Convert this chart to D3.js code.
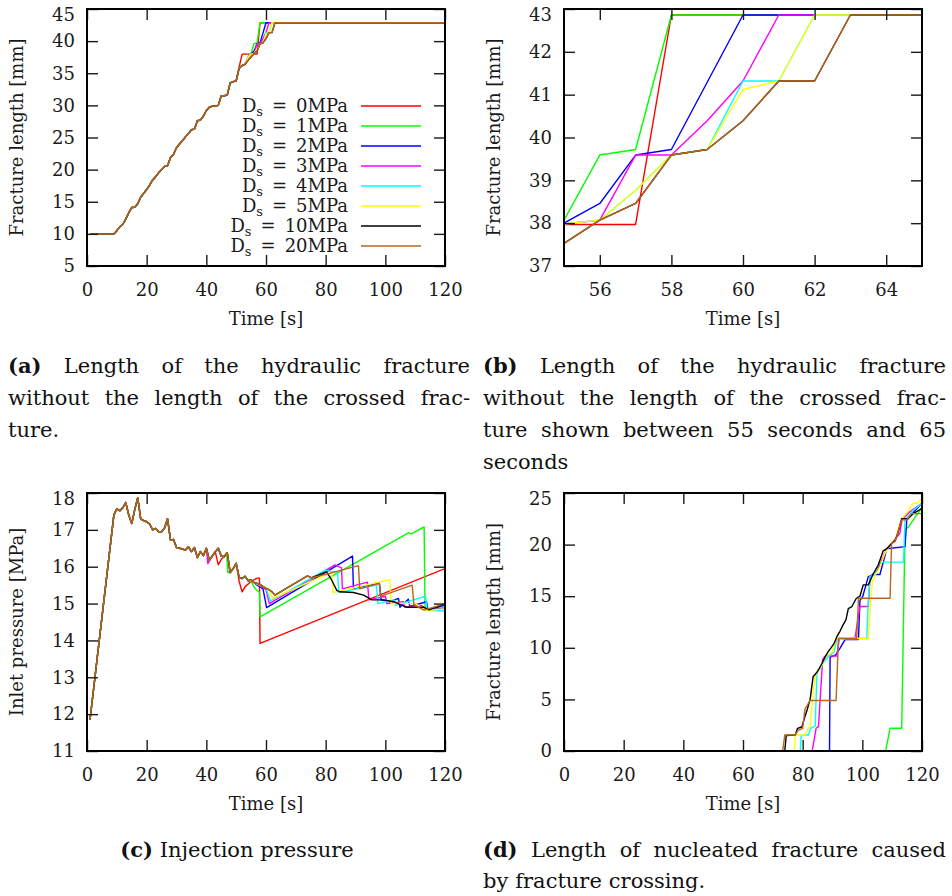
<!DOCTYPE html>
<html><head><meta charset="utf-8">
<script src="https://cdn.jsdelivr.net/npm/d3@7"></script>
<style>body{margin:0;background:#fff}svg{display:block}</style>
</head><body><svg id="fig" width="952" height="896"></svg>
<script>
// ---- series metadata ----
const seriesLabels = ["0MPa","1MPa","2MPa","3MPa","4MPa","5MPa","10MPa","20MPa"];
const seriesColors = ["#ff0000","#00ff00","#0000ff","#ff00ff","#00ffff","#ffff00","#000000","#bb651c"];

// ---- tick values ----
const timeTicks = [0,20,40,60,80,100,120];
const zoomTimeTicks = [56,58,60,62,64];
const lengthTicks = [5,10,15,20,25,30,35,40,45];
const zoomLengthTicks = [37,38,39,40,41,42,43];
const pressureTicks = [11,12,13,14,15,16,17,18];
const nucleatedTicks = [0,5,10,15,20,25];

// ---- hydraulic fracture length [mm] (time [s], length) ----
const lengthShared = [[1,10],[2,10],[3,10],[4,10],[5,10],[6,10],[7,10],[8,10],[9,10],[10,10.5],[11,11.1],[12,11.5],[13,12.3],[14,13.3],[15,14.1],[16,14.15],[17,14.7],[18,15.7],[19,16.3],[20,16.9],[21,17.6],[22,18.4],[23,18.9],[24,19.5],[25,20.0],[26,20.5],[27,20.6],[28,21.9],[29,22.4],[30,23.4],[31,24.0],[32,24.5],[33,25.1],[34,25.6],[35,26.2],[36,26.3],[37,27.6],[38,27.7],[39,28.3],[40,29.2],[41,29.7],[42,29.9],[43,29.9],[44,30.0],[45,31.5],[46,31.5],[47,31.6],[48,33.5],[49,33.7],[50,33.8]];
const lengthTail0 = [[51,36.0],[52,37.97],[53,37.97],[54,37.97],[55,37.97],[56,37.97],[57,37.97],[58,42.86],[120,42.86]];
const lengthTail1 = [[51,35.8],[52,36.2],[53,36.4],[54,37.5],[55,38.07],[56,39.59],[57,39.72],[58,42.86],[120,42.86]];
const lengthTail2 = [[51,35.8],[52,36.2],[53,36.4],[54,37.5],[55,38.0],[56,38.46],[57,39.59],[58,39.72],[59,41.29],[60,42.86],[120,42.86]];
const lengthTail3 = [[51,35.8],[52,36.2],[53,36.4],[54,37.5],[55,37.98],[56,38.07],[57,39.59],[58,39.59],[59,40.39],[60,41.32],[61,42.86],[120,42.86]];
const lengthTail4 = [[51,35.8],[52,36.2],[53,36.4],[54,37.5],[55,37.98],[56,38.07],[57,38.77],[58,39.59],[59,39.72],[60,41.32],[61,41.32],[62,42.86],[120,42.86]];
const lengthTail5 = [[51,35.8],[52,36.2],[53,36.4],[54,37.5],[55,37.98],[56,38.07],[57,38.77],[58,39.59],[59,39.72],[60,41.12],[61,41.32],[62,42.86],[120,42.86]];
const lengthTail10 = [[51,35.8],[52,36.2],[53,36.4],[54,37.0],[55,37.53],[56,38.07],[57,38.46],[58,39.59],[59,39.72],[60,40.39],[61,41.32],[62,41.32],[63,42.86],[120,42.86]];
const lengthTail20 = [[51,35.8],[52,36.2],[53,36.4],[54,37.0],[55,37.53],[56,38.07],[57,38.46],[58,39.59],[59,39.72],[60,40.39],[61,41.32],[62,41.32],[63,42.86],[120,42.86]];

// ---- inlet pressure [MPa] ----
const pressureShared = [[1,11.84],[9,17.4],[10,17.57],[11,17.52],[12,17.6],[13,17.74],[14,17.4],[15,17.17],[16,17.55],[17,17.87],[18,17.3],[19,17.25],[20,17.22],[21,17.16],[22,17.0],[23,17.04],[24,16.95],[25,16.95],[26,17.05],[27,17.3],[28,16.72],[29,16.74],[30,16.52],[31,16.5],[32,16.48],[33,16.45],[34,16.54],[35,16.41],[36,16.52],[37,16.25],[38,16.41],[39,16.3],[40,16.5]];
const pressureTail0 = [[41,16.18],[42,16.29],[43,16.41],[44,16.05],[45,16.2],[46,16.27],[47,16.38],[48,15.84],[49,15.95],[50,16.09],[51,15.6],[52,15.32],[53,15.46],[55,15.6],[57,15.69],[57.8,15.69],[58,13.92],[120,15.95]];
const pressureTail1 = [[41,16.18],[42,16.29],[43,16.41],[44,16.5],[45,16.29],[46,16.27],[46.8,16.38],[47.2,15.84],[49,15.95],[50,16.09],[51,15.71],[52,15.68],[53,15.74],[54,15.62],[55,15.6],[56,15.45],[57,15.35],[57.8,15.32],[58,14.64],[107.7,16.92],[108.7,16.89],[113,17.08],[113.3,14.9],[114.3,14.82],[117,14.85],[120,14.9]];
const pressureTail2 = [[41,16.18],[42,16.29],[43,16.41],[44,16.5],[45,16.29],[46,16.27],[47,16.38],[48,15.84],[49,15.95],[50,16.09],[51,15.71],[52,15.68],[53,15.74],[54,15.62],[55,15.64],[56,15.57],[57,15.5],[58,15.45],[59,15.4],[60.2,14.89],[89,16.29],[89.3,15.4],[93.5,15.48],[98,15.55],[98.6,15.1],[101.5,15.05],[104.4,15.14],[104.9,14.9],[107.7,15.12],[108.2,14.92],[113.8,15.05],[114.3,14.82],[120,14.96]];
const pressureTail3 = [[40.5,16.08],[42,16.29],[43,16.41],[44,16.5],[45,16.29],[46,16.27],[47,16.38],[48,15.84],[49,15.95],[50,16.09],[51,15.71],[52,15.68],[53,15.74],[54,15.62],[55,15.64],[56,15.57],[57,15.52],[58,15.48],[59,15.44],[60,15.38],[61.1,15.0],[83.1,16.05],[85.3,15.97],[85.6,15.4],[94,15.58],[94.5,15.1],[100,15.2],[100.5,15.0],[106,15.05],[106.5,14.9],[112,14.95],[114,14.85],[120,14.85]];
const pressureTail4 = [[41,16.18],[42,16.29],[43,16.41],[44,16.5],[45,16.29],[46,16.27],[47,16.38],[48,15.84],[49,15.95],[50,16.09],[51,15.71],[52,15.68],[53,15.74],[54,15.62],[55,15.64],[56,15.57],[57,15.53],[58,15.5],[59,15.46],[60,15.42],[61.5,15.07],[79.8,15.9],[84,15.85],[84.4,15.3],[97,15.5],[97.5,15.0],[103,15.1],[103.4,14.95],[113.5,15.2],[114,14.82],[120,14.8]];
const pressureTail5 = [[41,16.18],[42,16.29],[43,16.41],[44,16.5],[45,16.29],[46,16.27],[47,16.38],[48,15.84],[49,15.95],[50,16.09],[51,15.71],[52,15.68],[53,15.74],[54,15.62],[55,15.64],[56,15.57],[57,15.54],[58,15.51],[59,15.47],[60,15.43],[61,15.38],[62.2,15.14],[82,15.85],[82.5,15.3],[101.5,15.65],[102,15.0],[110,15.0],[114,14.82],[120,14.85]];
const pressureTail10 = [[41,16.18],[42,16.29],[43,16.41],[44,16.5],[45,16.29],[46,16.27],[47,16.38],[48,15.84],[49,15.95],[50,16.09],[51,15.71],[52,15.68],[53,15.74],[54,15.62],[55,15.64],[56,15.57],[57,15.55],[58,15.52],[59,15.46],[60,15.41],[61,15.38],[62,15.32],[63,15.23],[73.9,15.75],[75.3,15.7],[80.3,15.86],[82,15.64],[83.7,15.36],[84.8,15.32],[89.3,15.3],[92.7,15.23],[95.5,15.1],[99.4,15.1],[102.8,15.05],[105,14.97],[107.3,14.9],[112.9,14.9],[114.6,14.83],[119.5,14.98],[120,15.0]];
const pressureTail20 = [[41,16.18],[42,16.29],[43,16.41],[44,16.5],[45,16.29],[46,16.27],[47,16.38],[48,15.84],[49,15.95],[50,16.09],[51,15.71],[52,15.68],[53,15.74],[54,15.62],[55,15.64],[56,15.57],[57,15.55],[58,15.52],[59,15.46],[60,15.41],[61,15.38],[62,15.32],[63,15.23],[73.9,15.75],[75.3,15.7],[80.3,15.8],[91,16.03],[91.4,15.4],[98,15.55],[98.5,15.2],[109,15.5],[109.6,14.96],[113,14.82],[120,15.0]];

// ---- nucleated fracture length [mm] ----
const nucleated0 = [[0,0],[120,0]];
const nucleated1 = [[0,0],[107.8,0],[109.3,2.2],[113.2,2.2],[114.3,21.4],[115.4,21.7],[117.1,22.4],[120,23.6]];
const nucleated2 = [[0,0],[89,0],[89.2,9.1],[91,9.3],[92.5,9.95],[94.2,10.8],[98.7,10.8],[99.2,14.6],[100.1,14.95],[102,16.9],[103.7,17.1],[105.9,17.1],[108.2,19.6],[114.3,19.8],[114.9,22.4],[119.3,23.8],[120,24]];
const nucleated3 = [[0,0],[83.2,0],[84.5,2.2],[85.3,2.36],[86.7,8.9],[87.5,9.2],[91.4,9.2],[92.3,10.9],[97.5,10.9],[99.2,14.0],[102,14.0],[102.6,16.9],[105,17.5],[108.2,19.6],[109.8,20.1],[112.6,21.1],[113.3,22.4],[116,23.2],[120,24]];
const nucleated4 = [[0,0],[79.2,0],[79.5,1.55],[82,1.55],[82.6,2.2],[84.2,2.4],[84.8,7.7],[86,8.0],[87,8.6],[88.5,9.1],[90.5,9.6],[91.6,10.9],[101.5,10.9],[102,14.6],[102.6,16.9],[104,17.1],[105.7,18.3],[113.8,18.3],[114.3,22.4],[117,23.3],[120,24]];
const nucleated5 = [[0,0],[77.2,0],[77.6,1.55],[80.8,1.55],[81.8,2.2],[82.5,2.3],[83.3,5.0],[84,7.0],[85,7.8],[86,8.1],[87.5,9.0],[88.5,9.3],[90,9.6],[91.3,10.9],[102,10.9],[102.8,14.6],[103.4,16.5],[104.5,17.1],[106,17.9],[107.5,19.1],[109.5,20.1],[111,20.4],[112,21.5],[113.2,22.5],[115.5,23.3],[117,24],[118.5,24],[120,24.5]];
const nucleated10 = [[0,0],[74,0],[74.5,1.5],[77.5,1.55],[78.3,2.2],[79.8,2.35],[80.5,3.1],[81.5,4.0],[82.5,5.0],[83.5,7.2],[85,7.7],[86.5,8.5],[87.5,9.1],[88.5,9.6],[89.5,10.0],[90.5,10.4],[91.5,11.1],[92.5,11.6],[93.5,12.2],[94.5,12.7],[95.3,13.8],[96.5,14.0],[98,14.8],[99.2,15.0],[100.3,16.1],[102,16.1],[103.7,17.2],[105.3,18.0],[107,19.4],[108.2,19.6],[109.8,20.1],[111,20.4],[112,21.2],[113.2,22.5],[115.3,22.5],[117,23.0],[120,23.5]];
const nucleated20 = [[0,0],[73.3,0],[74,1.55],[77.4,1.55],[78.6,2.03],[80,2.2],[80.8,4.1],[81.3,4.3],[82.5,4.9],[91.2,4.9],[92,10.9],[98.1,10.9],[98.7,14.8],[109.3,14.8],[109.8,20.1],[111,20.3],[113.2,22.4],[114.9,22.4],[116.5,23.0],[120,23.0]];

// ---- assemble series ----
const lengthSeries = [lengthTail0,lengthTail1,lengthTail2,lengthTail3,lengthTail4,lengthTail5,lengthTail10,lengthTail20]
  .map(tail => lengthShared.concat(tail));
const pressureSeries = [pressureTail0,pressureTail1,pressureTail2,pressureTail3,pressureTail4,pressureTail5,pressureTail10,pressureTail20]
  .map(tail => pressureShared.concat(tail));
const nucleatedSeries = [nucleated0,nucleated1,nucleated2,nucleated3,nucleated4,nucleated5,nucleated10,nucleated20];

const svg = d3.select("#fig");
const AXIS_FONT = "'DejaVu Serif', serif";
const CAPTION_FONT = "'DejaVu Serif', serif";

function drawPanel(cfg) {
  const g = svg.append("g");
  const x = d3.scaleLinear().domain(cfg.xDomain).range([cfg.left, cfg.right]);
  const y = d3.scaleLinear().domain(cfg.yDomain).range([cfg.bottom, cfg.top]);

  svg.append("clipPath").attr("id", "clip-" + cfg.id)
    .append("rect").attr("x", cfg.left).attr("y", cfg.top)
    .attr("width", cfg.right - cfg.left).attr("height", cfg.bottom - cfg.top);

  const line = d3.line().x(d => x(d[0])).y(d => y(d[1]));
  const lines = g.append("g").attr("clip-path", `url(#clip-${cfg.id})`);
  cfg.series.forEach((s, i) => {
    lines.append("path").attr("d", line(s)).attr("fill", "none")
      .attr("stroke", seriesColors[i]).attr("stroke-width", 1.4)
      .attr("stroke-linejoin", "round");
  });

  const styleAxis = sel => {
    sel.attr("font-family", AXIS_FONT).attr("font-size", 18);
    sel.select(".domain").remove();
    sel.selectAll(".tick line").attr("stroke", "#1a1a1a").attr("stroke-width", 1.4);
    sel.selectAll(".tick text").attr("fill", "#1a1a1a");
  };
  g.append("g").attr("transform", `translate(0,${cfg.bottom})`)
    .call(d3.axisBottom(x).tickValues(cfg.xTicks).tickSize(-11).tickPadding(17).tickFormat(d3.format("d")))
    .call(styleAxis);
  g.append("g").attr("transform", `translate(0,${cfg.top})`)
    .call(d3.axisTop(x).tickValues(cfg.xTicks).tickSize(-11).tickFormat(""))
    .call(styleAxis);
  const leftAxis = g.append("g").attr("transform", `translate(${cfg.left},0)`)
    .call(d3.axisLeft(y).tickValues(cfg.yTicks).tickSize(-11).tickPadding(12).tickFormat(d3.format("d")))
    .call(styleAxis);
  // the label at the very top of the frame sits a little lower
  leftAxis.selectAll(".tick text").filter(d => d === cfg.yDomain[1]).attr("dy", "0.62em");
  g.append("g").attr("transform", `translate(${cfg.right},0)`)
    .call(d3.axisRight(y).tickValues(cfg.yTicks).tickSize(-11).tickFormat(""))
    .call(styleAxis);

  g.append("rect").attr("x", cfg.left).attr("y", cfg.top)
    .attr("width", cfg.right - cfg.left).attr("height", cfg.bottom - cfg.top)
    .attr("fill", "none").attr("stroke", "#000").attr("stroke-width", 2);

  g.append("text").attr("x", (cfg.left + cfg.right) / 2).attr("y", cfg.bottom + 59)
    .attr("text-anchor", "middle").attr("font-family", AXIS_FONT).attr("font-size", 18)
    .attr("fill", "#1a1a1a").text("Time [s]");
  g.append("text")
    .attr("transform", `translate(${cfg.left - 64},${(cfg.top + cfg.bottom) / 2}) rotate(-90)`)
    .attr("text-anchor", "middle").attr("font-family", AXIS_FONT).attr("font-size", 18)
    .attr("fill", "#1a1a1a").text(cfg.yLabel);
  return g;
}

drawPanel({id: "a", left: 87, right: 445, top: 9, bottom: 266, xDomain: [0,120], yDomain: [5,45],
  xTicks: timeTicks, yTicks: lengthTicks, series: lengthSeries, yLabel: "Fracture length [mm]"});
drawPanel({id: "b", left: 564, right: 922, top: 9, bottom: 266, xDomain: [55,65], yDomain: [37,43],
  xTicks: zoomTimeTicks, yTicks: zoomLengthTicks, series: lengthSeries, yLabel: "Fracture length [mm]"});
drawPanel({id: "c", left: 87, right: 445, top: 493, bottom: 751, xDomain: [0,120], yDomain: [11,18],
  xTicks: timeTicks, yTicks: pressureTicks, series: pressureSeries, yLabel: "Inlet pressure [MPa]"});
drawPanel({id: "d", left: 564, right: 922, top: 493, bottom: 751, xDomain: [0,120], yDomain: [0,25],
  xTicks: timeTicks, yTicks: nucleatedTicks, series: nucleatedSeries, yLabel: "Fracture length [mm]"});

// ---- legend inside panel (a) ----
const legend = svg.append("g").attr("font-family", AXIS_FONT).attr("font-size", 18).attr("fill", "#1a1a1a");
seriesLabels.forEach((lab, i) => {
  const yRow = 106 + i * 20;
  const t = legend.append("text").attr("x", 348).attr("y", yRow + 6).attr("text-anchor", "end");
  t.append("tspan").text("D");
  t.append("tspan").attr("font-size", 13).attr("dy", 4).text("s");
  t.append("tspan").attr("dy", -4).attr("dx", 9).text("=");
  t.append("tspan").attr("dx", 9).text(lab);
  legend.append("line").attr("x1", 361).attr("x2", 421).attr("y1", yRow).attr("y2", yRow)
    .attr("stroke", seriesColors[i]).attr("stroke-width", 1.4);
});

// ---- captions (justified lines) ----
const CAPTION_SIZE = 21;
function captionLine(words, x0, x1, yBase, justify) {
  const g = svg.append("g").attr("font-family", CAPTION_FONT).attr("font-size", CAPTION_SIZE).attr("fill", "#111");
  const nodes = words.map(w => {
    const bold = w.startsWith("**");
    const t = g.append("text").attr("y", yBase).text(bold ? w.slice(2) : w);
    if (bold) t.attr("font-weight", "bold");
    return t;
  });
  const widths = nodes.map(n => n.node().getComputedTextLength());
  const total = d3.sum(widths);
  const gap = justify && words.length > 1 ? (x1 - x0 - total) / (words.length - 1) : 7;
  let cx = x0;
  nodes.forEach((n, i) => { n.attr("x", cx); cx += widths[i] + gap; });
}
function centeredCaption(words, cx, yBase) {
  const g = svg.append("g").attr("font-family", CAPTION_FONT).attr("font-size", CAPTION_SIZE).attr("fill", "#111");
  const t = g.append("text").attr("x", cx).attr("y", yBase).attr("text-anchor", "middle");
  words.forEach((w, i) => {
    const bold = w.startsWith("**");
    const s = t.append("tspan").text((i ? " " : "") + (bold ? w.slice(2) : w));
    if (bold) s.attr("font-weight", "bold");
  });
}

captionLine(["**(a)","Length","of","the","hydraulic","fracture"], 8, 470, 373, true);
captionLine(["without","the","length","of","the","crossed","frac-"], 8, 470, 405, true);
captionLine(["ture."], 8, 470, 437, false);

captionLine(["**(b)","Length","of","the","hydraulic","fracture"], 483, 946, 373, true);
captionLine(["without","the","length","of","the","crossed","frac-"], 483, 946, 405, true);
captionLine(["ture","shown","between","55","seconds","and","65"], 483, 946, 437, true);
captionLine(["seconds"], 483, 946, 469, false);

centeredCaption(["**(c)","Injection","pressure"], 237, 857);

captionLine(["**(d)","Length","of","nucleated","fracture","caused"], 483, 946, 857, true);
captionLine(["by","fracture","crossing."], 483, 946, 888, false);
</script></body></html>
